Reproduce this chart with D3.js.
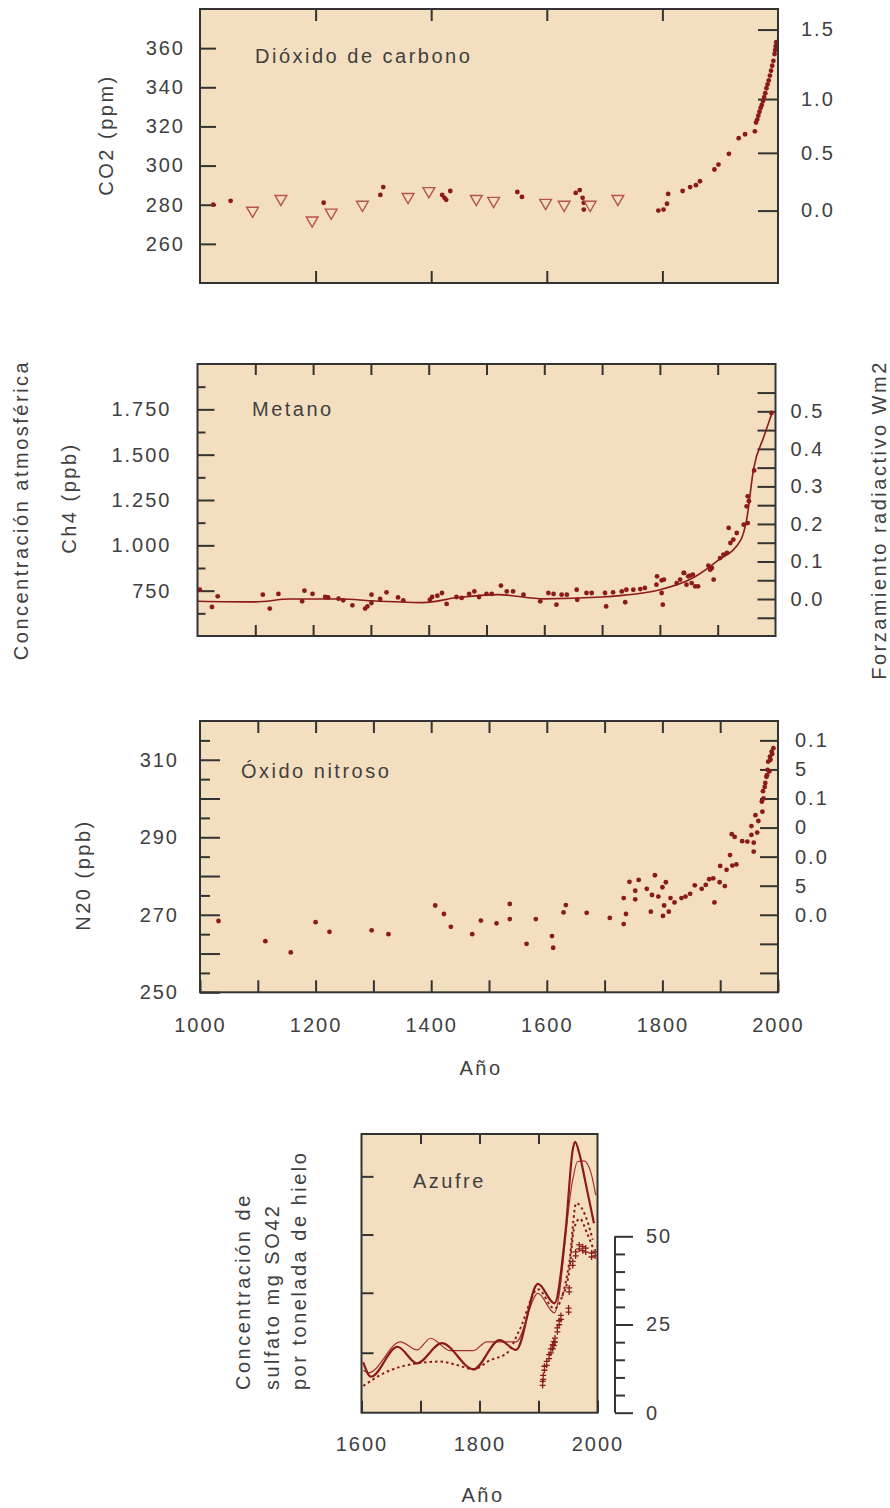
<!DOCTYPE html>
<html>
<head>
<meta charset="utf-8">
<script src="https://cdn.jsdelivr.net/npm/d3@7"></script>
<style>
  body { margin: 0; background: #fff; }
  svg text { font-family: "Liberation Sans", Arial, sans-serif; }
</style>
</head>
<body>
<div id="chart"></div>
<script>
// ---------- data ----------
// CO2 panel: ice-core dots and triangles, year / ppm
const co2Dots = [[1023,280],[1053,282],[1214,281],[1312,285],[1317,289],[1419,285],[1423,283.5],[1426,282.5],[1433,287],
  [1549,286.5],[1557,284],[1650,286],[1657,287.5],[1662,283.5],[1664,281],[1664,277.5],[1793,277],[1802,277.5],
  [1808,280.5],[1810,285.5],[1835,287],[1848,289],[1858,290],[1865,292],[1890,298],[1897,300.5],[1915,306],
  [1932,314],[1943,316],[1960,317.5],[1962,322],[1964,323.5],[1966,325.5],[1968,327.5],[1970,329.5],[1972,331],
  [1974,333],[1976,335],[1978,337],[1980,339.5],[1982,341.5],[1984,343.5],[1986,346],[1988,348.5],[1990,351],
  [1992,353.5],[1994,357],[1995,359],[1996,361],[1997,363]];
const co2Triangles = [[1091,277],[1140,283],[1194,272],[1227,276],[1281,280],[1360,284],[1396,287],[1478,283],
  [1508,282],[1598,281],[1630,280],[1675,280],[1723,283]];
const co2Ticks = [260, 280, 300, 320, 340, 360];
const co2ForcingTicks = [277, 306.5, 334, 369.5];          // ppm where the forcing ticks sit
const co2ForcingLabels = ["0.0", "0.5", "1.0", "1.5"];
const co2YearTicks = [1200, 1400, 1600, 1800];

// Methane panel, year / ppb
const ch4Dots = [[1004,755],[1025,660],[1035,719],[1113,728],[1125,651],[1140,732],[1181,691],[1185,750],[1199,732],
  [1221,715],[1226,713],[1244,706],[1252,697],[1268,669],[1290,651],[1294,663],[1301,728],[1301,682],[1316,704],
  [1327,741],[1347,713],[1356,697],[1402,700],[1406,715],[1415,722],[1423,737],[1431,677],[1448,715],[1457,710],
  [1470,732],[1479,746],[1487,715],[1500,732],[1509,732],[1525,778],[1535,746],[1546,746],[1564,728],[1593,691],
  [1607,737],[1616,732],[1621,673],[1630,728],[1639,728],[1656,755],[1657,700],[1673,737],[1682,737],[1705,737],
  [1707,663],[1719,741],[1734,746],[1742,755],[1740,686],[1754,755],[1766,759],[1774,765],[1794,783],[1803,807],
  [1803,737],[1805,673],[1795,829],[1807,811],[1829,792],[1835,811],[1841,848],[1846,783],[1855,792],[1861,774],
  [1852,833],[1842,848],[1849,829],[1857,838],[1866,774],[1884,888],[1887,866],[1890,875],[1893,811],[1904,930],
  [1910,949],[1916,958],[1919,1096],[1922,1013],[1927,1031],[1933,1068],[1945,1114],[1952,1123],[1950,1215],
  [1954,1243],[1952,1270],[1963,1413],[1993,1730]];
const ch4Curve = [[1000,692],[1100,688],[1160,704],[1250,704],[1300,694],[1390,684],[1450,712],[1520,728],[1600,705],
  [1700,715],[1800,755],[1860,825],[1900,915],[1940,1030],[1950,1140],[1962,1420],[1980,1600],[1995,1740]];
const ch4MajorTicks = [750, 1000, 1250, 1500, 1750];
const ch4MinorTicks = [625, 875, 1125, 1375, 1625, 1875];
const ch4ForcingAnchor = [704, 1739];                      // ppb at forcing 0.0 and 0.5
const ch4ForcingTicks = [-0.05, 0, 0.05, 0.1, 0.15, 0.2, 0.25, 0.3, 0.35, 0.4, 0.45, 0.5, 0.55];
const ch4ForcingLabels = ["", "0.0", "", "0.1", "", "0.2", "", "0.3", "", "0.4", "", "0.5", ""];

// Nitrous oxide panel, year / ppb
const n2oDots = [[1032,268.4],[1113,263.2],[1157,260.3],[1200,268.1],[1224,265.6],[1297,266],[1326,265],[1407,272.4],
  [1422,270.2],[1434,266.9],[1471,265],[1486,268.5],[1513,267.8],[1536,272.8],[1536,268.9],[1565,262.5],[1581,268.9],
  [1609,264.5],[1611,261.5],[1629,270.6],[1633,272.5],[1669,270.5],[1709,269.2],[1733,267.6],[1737,270.2],[1733,274.3],
  [1743,278.5],[1753,276.2],[1753,274],[1759,279],[1773,276.7],[1782,275.1],[1780,270.8],[1787,280.2],[1793,274.7],
  [1800,277.1],[1801,269.7],[1803,272.4],[1806,278.4],[1811,270.8],[1814,274.3],[1821,273.2],[1833,274.3],[1840,274.7],
  [1848,275.4],[1856,277.6],[1868,276.7],[1875,277.7],[1881,279.2],[1888,279.4],[1890,273.2],[1899,278.4],[1900,282.6],
  [1908,277.4],[1911,281.6],[1917,285.4],[1921,282.7],[1928,283],[1920,290.8],[1925,290.1],[1938,289],[1947,288.9],
  [1954,290.6],[1958,288.6],[1958,286.3],[1964,291.2],[1961,295.7],[1954,292.9],[1966,294.2],[1973,296.6],[1972,299.2],
  [1974,301.9],[1975,300],[1977,303],[1978,304],[1980,305.6],[1981,306],[1982,307.4],[1983,309.5],[1985,307],
  [1986,310.8],[1987,310],[1989,312.1],[1990,311.5],[1992,313]];
const n2oMajorTicks = [250, 260, 270, 280, 290, 300, 310];
const n2oLabelled = [250, 270, 290, 310];
const n2oMinorTicks = [255, 265, 275, 285, 295, 305, 315];
const n2oForcingTicks = [315, 307.5, 300, 292.5, 285, 277.5, 270, 262.5, 255];
const n2oForcingLabels = ["0.1", "5", "0.1", "0", "0.0", "5", "0.0", "", ""];
const yearTicks = [1000, 1100, 1200, 1300, 1400, 1500, 1600, 1700, 1800, 1900, 2000];

// Sulphate panel, year / concentration
const sulfThick = [[1603,14.3],[1616,10.2],[1661,18.7],[1694,14],[1736,19.7],[1790,12.3],[1834,20.6],[1862,17.8],
  [1899,36.5],[1927,31],[1946,51.7],[1958,74.5],[1962,76.8],[1969,73.6],[1980,65],[1994,53.7]];
const sulfThin = [[1603,12],[1612,11.3],[1666,20.1],[1694,17.8],[1717,21.1],[1750,17.6],[1790,17.6],[1812,20.1],
  [1862,20.1],[1899,33.8],[1927,28.3],[1958,66],[1966,71.2],[1977,71.4],[1989,68],[1997,61.7]];
const sulfDotted = [[1603,7.6],[1638,11.2],[1694,14],[1734,14.5],[1762,13.5],[1790,12.3],[1818,14.9],[1846,16.8],
  [1868,23.5],[1899,35],[1927,29.5],[1952,42.3],[1964,59.4],[1980,55.6],[1992,49]];
const sulfDotted2 = [[1940,33],[1952,40],[1960,52],[1970,55],[1982,51],[1994,46]];
const sulfCrosses = [[1907,8.3],[1908,10],[1910,12.6],[1914,14],[1918,15.9],[1921,17.5],[1924,18.7],[1926,19.6],
  [1928,20.6],[1932,23.5],[1935,25.5],[1938,27],[1951,29.1],[1952,34.8],[1958,42.3],[1963,45],[1969,47],
  [1975,46.5],[1980,46.1],[1990,44.7],[1996,45]];
const sulfLeftTicks = [17, 34, 50.5, 67];
const sulfRightTicks = [0, 5, 10, 15, 20, 25, 30, 35, 40, 45, 50];
const sulfRightLabels = [0, 25, 50];
const sulfYearTicks = [1600, 1700, 1800, 1900, 2000];

// ---------- drawing ----------
const bg = "#f3dfbf", red = "#8b1a1a", triRed = "#b5544c", ink = "#404040", frame = "#333";
const font = '"Liberation Sans", Arial, sans-serif';
const fs = 20;

const svg = d3.select("#chart").append("svg").attr("width", 890).attr("height", 1508);

function styleAxis(g) {
  g.select(".domain").remove();
  g.attr("font-family", font);
  g.selectAll(".tick line").attr("stroke", frame).attr("stroke-width", 2);
  g.selectAll(".tick text").attr("font-size", fs).attr("fill", ink).style("letter-spacing", "2px");
}

function panelBox(x, y) {
  svg.append("rect")
    .attr("x", x.range()[0]).attr("y", y.range()[1])
    .attr("width", x.range()[1] - x.range()[0])
    .attr("height", y.range()[0] - y.range()[1])
    .attr("fill", bg);
}
function panelFrame(x, y) {
  svg.append("rect")
    .attr("x", x.range()[0]).attr("y", y.range()[1])
    .attr("width", x.range()[1] - x.range()[0])
    .attr("height", y.range()[0] - y.range()[1])
    .attr("fill", "none").attr("stroke", frame).attr("stroke-width", 2);
}
function addAxis(transform, axis) {
  return svg.append("g").attr("transform", transform).call(axis).call(styleAxis);
}
function label(text, x, y, rotate, anchor) {
  svg.append("text")
    .attr("transform", rotate ? `translate(${x},${y}) rotate(-90)` : `translate(${x},${y})`)
    .attr("text-anchor", anchor || "start")
    .attr("font-size", fs).attr("fill", ink)
    .style("letter-spacing", "2.5px")
    .text(text);
}
function dots(data, x, y) {
  svg.append("g").selectAll("circle").data(data).join("circle")
    .attr("cx", d => x(d[0])).attr("cy", d => y(d[1])).attr("r", 2.4).attr("fill", red);
}

// CO2
const xC = d3.scaleLinear().domain([1000, 2000]).range([200, 778]);
const yC = d3.scaleLinear().domain([240, 380]).range([283, 9]);
panelBox(xC, yC);
addAxis("translate(200,0)", d3.axisLeft(yC).tickValues(co2Ticks).tickSize(-16).tickPadding(15));
addAxis("translate(778,0)", d3.axisRight(yC).tickValues(co2ForcingTicks)
  .tickFormat((d, i) => co2ForcingLabels[i]).tickSize(-20).tickPadding(23));
addAxis("translate(0,9)", d3.axisTop(xC).tickValues(co2YearTicks).tickSize(-12).tickFormat(""));
addAxis("translate(0,283)", d3.axisBottom(xC).tickValues(co2YearTicks).tickSize(-12).tickFormat(""));
dots(co2Dots, xC, yC);
svg.append("g").selectAll("path").data(co2Triangles).join("path")
  .attr("d", d3.symbol(d3.symbolTriangle, 60))
  .attr("transform", d => `translate(${xC(d[0])},${yC(d[1])}) rotate(180)`)
  .attr("fill", "none").attr("stroke", triRed).attr("stroke-width", 1.4);
panelFrame(xC, yC);
label("Dióxido de carbono", 255, 63);
label("CO2 (ppm)", 113, 135, true, "middle");

// Methane
const es = d3.formatLocale({ decimal: ",", thousands: ".", grouping: [3], currency: ["", "€"] });
const xM = d3.scaleLinear().domain([1000, 2000]).range([197.5, 775.5]);
const yM = d3.scaleLinear().domain([500, 2000]).range([636, 364]);
const fM = d3.scaleLinear().domain([0, 0.5]).range(ch4ForcingAnchor.map(yM));
panelBox(xM, yM);
addAxis("translate(197.5,0)", d3.axisLeft(yM).tickValues(ch4MajorTicks).tickFormat(es.format(",")).tickSize(-17).tickPadding(26));
addAxis("translate(197.5,0)", d3.axisLeft(yM).tickValues(ch4MinorTicks).tickFormat("").tickSize(-8));
addAxis("translate(775.5,0)", d3.axisRight(fM).tickValues(ch4ForcingTicks)
  .tickFormat((d, i) => ch4ForcingLabels[i]).tickSize(-18).tickPadding(15));
addAxis("translate(0,364)", d3.axisTop(xM).tickValues(yearTicks.slice(1, -1)).tickSize(-11).tickFormat(""));
addAxis("translate(0,636)", d3.axisBottom(xM).tickValues(yearTicks.slice(1, -1)).tickSize(-11).tickFormat(""));
svg.append("path").datum(ch4Curve)
  .attr("d", d3.line().x(d => xM(d[0])).y(d => yM(d[1])).curve(d3.curveMonotoneX))
  .attr("fill", "none").attr("stroke", red).attr("stroke-width", 1.6);
dots(ch4Dots, xM, yM);
panelFrame(xM, yM);
label("Metano", 252, 416);
label("Concentración atmosférica", 28, 510, true, "middle");
label("Ch4 (ppb)", 76, 498, true, "middle");
label("Forzamiento radiactivo Wm2", 886, 520, true, "middle");

// Nitrous oxide
const xN = d3.scaleLinear().domain([1000, 2000]).range([200, 778]);
const yN = d3.scaleLinear().domain([250, 320]).range([992.3, 721]);
panelBox(xN, yN);
addAxis("translate(200,0)", d3.axisLeft(yN).tickValues(n2oMajorTicks)
  .tickFormat(d => n2oLabelled.includes(d) ? d : "").tickSize(-20).tickPadding(21));
addAxis("translate(200,0)", d3.axisLeft(yN).tickValues(n2oMinorTicks).tickFormat("").tickSize(-10));
addAxis("translate(778,0)", d3.axisRight(yN).tickValues(n2oForcingTicks)
  .tickFormat((d, i) => n2oForcingLabels[i]).tickSize(-18).tickPadding(17));
addAxis("translate(0,721)", d3.axisTop(xN).tickValues(yearTicks.slice(1, -1)).tickSize(-12).tickFormat(""));
addAxis("translate(0,992.3)", d3.axisBottom(xN).tickValues(yearTicks)
  .tickFormat(d => d % 200 === 0 ? d : "").tickSize(-12).tickPadding(26));
dots(n2oDots, xN, yN);
panelFrame(xN, yN);
label("Óxido nitroso", 241, 778);
label("N20 (ppb)", 90, 875, true, "middle");
label("Año", 481, 1075, false, "middle");

// Sulphate
const xS = d3.scaleLinear().domain([1600, 2000]).range([361.5, 597.5]);
const yS = d3.scaleLinear().domain([0, 79]).range([1412.7, 1134]);
panelBox(xS, yS);
addAxis("translate(361.5,0)", d3.axisLeft(yS).tickValues(sulfLeftTicks).tickFormat("").tickSize(-12));
addAxis("translate(0,1134)", d3.axisTop(xS).tickValues(sulfYearTicks.slice(1, -1)).tickSize(-10).tickFormat(""));
addAxis("translate(0,1412.7)", d3.axisBottom(xS).tickValues(sulfYearTicks)
  .tickFormat(d => d % 200 === 0 ? d : "").tickSize(-12).tickPadding(24));

const sLine = d3.line().x(d => xS(d[0])).y(d => yS(d[1])).curve(d3.curveMonotoneX);
svg.append("clipPath").attr("id", "sclip").append("rect")
  .attr("x", xS.range()[0]).attr("y", yS.range()[1])
  .attr("width", xS.range()[1] - xS.range()[0]).attr("height", yS.range()[0] - yS.range()[1]);
const sg = svg.append("g").attr("clip-path", "url(#sclip)");
sg.append("path").datum(sulfThin).attr("d", sLine)
  .attr("fill", "none").attr("stroke", "#a5312c").attr("stroke-width", 1.2);
sg.append("path").datum(sulfDotted).attr("d", sLine)
  .attr("fill", "none").attr("stroke", red).attr("stroke-width", 2).attr("stroke-dasharray", "2.5,3");
sg.append("path").datum(sulfDotted2).attr("d", sLine)
  .attr("fill", "none").attr("stroke", red).attr("stroke-width", 2).attr("stroke-dasharray", "2.5,3");
sg.append("path").datum(sulfThick).attr("d", sLine)
  .attr("fill", "none").attr("stroke", red).attr("stroke-width", 2.2);
sg.append("g").selectAll("path").data(sulfCrosses).join("path")
  .attr("d", "M0,-5V5M-3,-2H3M-3,2H3")
  .attr("transform", d => `translate(${xS(d[0])},${yS(d[1])})`)
  .attr("fill", "none").attr("stroke", red).attr("stroke-width", 1.3);
panelFrame(xS, yS);

// separate right-hand scale of the sulphate panel
const sAxisX = 615;
svg.append("line")
  .attr("x1", sAxisX).attr("x2", sAxisX)
  .attr("y1", yS(0)).attr("y2", yS(50))
  .attr("stroke", frame).attr("stroke-width", 2);
addAxis(`translate(${sAxisX},0)`, d3.axisRight(yS).tickValues(sulfRightTicks)
  .tickFormat(d => sulfRightLabels.includes(d) ? d : "")
  .tickSize(10).tickPadding(21))
  .selectAll(".tick line").attr("x2", d => sulfRightLabels.includes(d) ? 18 : 10);

label("Azufre", 413, 1188);
label("Concentración de", 250, 1390, true, "start");
label("sulfato mg SO42", 279, 1390, true, "start");
label("por tonelada de hielo", 306, 1390, true, "start");
label("Año", 483, 1502, false, "middle");
</script>
</body>
</html>
